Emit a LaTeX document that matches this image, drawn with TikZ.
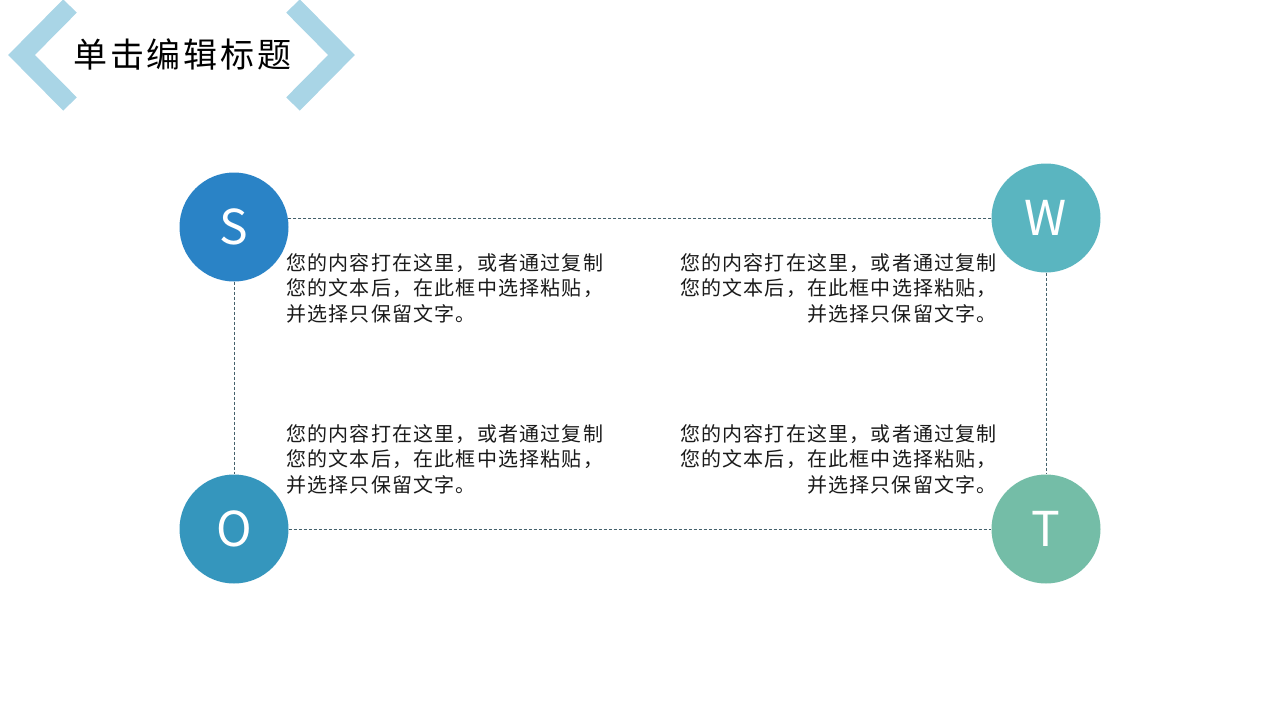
\documentclass[tikz,border=0pt]{standalone}
\usepackage{fontspec}
\newfontfamily\cjk{Noto Sans CJK SC}
\newfontfamily\cjkwide[LetterSpace=6]{Noto Sans CJK SC}
\newfontfamily\cjktitle[LetterSpace=8]{Noto Sans CJK SC}
\usetikzlibrary{backgrounds}
\definecolor{sblue}{HTML}{2A83C6}
\definecolor{wteal}{HTML}{5AB5C0}
\definecolor{oblue}{HTML}{3596BD}
\definecolor{tgreen}{HTML}{74BDA7}
\definecolor{chevblue}{HTML}{A9D5E6}
\definecolor{lineslate}{HTML}{44606B}
\definecolor{bodyink}{HTML}{1A1A1A}
\tikzset{%
  % Specifications for style of nodes:
        letter/.style = {circle, minimum size=109pt, inner sep=0pt,
                         text=white, font=\cjk\fontsize{48}{48}\selectfont},
      bodytext/.style = {inner sep=0pt, text=bodyink,
                         font=\cjkwide\fontsize{20}{25.5}\selectfont},
      dashline/.style = {draw=lineslate, line width=1pt,
                         dash pattern=on 3pt off 2pt},
       chevron/.style = {draw=chevblue, line width=19pt, miter limit=4},
}

\begin{document}
\begin{tikzpicture}[x=1pt, y=-1pt]
  \useasboundingbox (0,0) rectangle (1280,720);
  % Title with its two chevrons
  \draw[chevron] (70,6) -- (21.5,55) -- (70,104);
  \draw[chevron] (293,6) -- (341.5,55) -- (293,104);
  \node (title) [anchor=west, font=\cjktitle\fontsize{34}{34}\selectfont]
        at (70,54) {单击编辑标题};

  % Specification of nodes (position, etc.)
  \node (s) [letter, fill=sblue]  at (234,227) {S};
  \node (w) [letter, fill=wteal]  at (1046,218) {W};
  \node (o) [letter, fill=oblue]  at (234,529) {O};
  \node (t) [letter, fill=tgreen] at (1046,529) {T};

  \node (stext) [bodytext, anchor=north west, align=left]  at (286,253)
        {您的内容打在这里，或者通过复制\\您的文本后，在此框中选择粘贴，\\并选择只保留文字。};
  \node (wtext) [bodytext, anchor=north east, align=right] at (997,253)
        {您的内容打在这里，或者通过复制\\您的文本后，在此框中选择粘贴，\\并选择只保留文字。};
  \node (otext) [bodytext, anchor=north west, align=left]  at (286,424)
        {您的内容打在这里，或者通过复制\\您的文本后，在此框中选择粘贴，\\并选择只保留文字。};
  \node (ttext) [bodytext, anchor=north east, align=right] at (997,424)
        {您的内容打在这里，或者通过复制\\您的文本后，在此框中选择粘贴，\\并选择只保留文字。};

  \begin{pgfonlayer}{background}
    \draw[dashline] (w) -- (w -| s);
    \draw[dashline] (s) -- (o);
    \draw[dashline] (o) -- (t);
    \draw[dashline] (w) -- (t);
  \end{pgfonlayer}
\end{tikzpicture}
\end{document}
